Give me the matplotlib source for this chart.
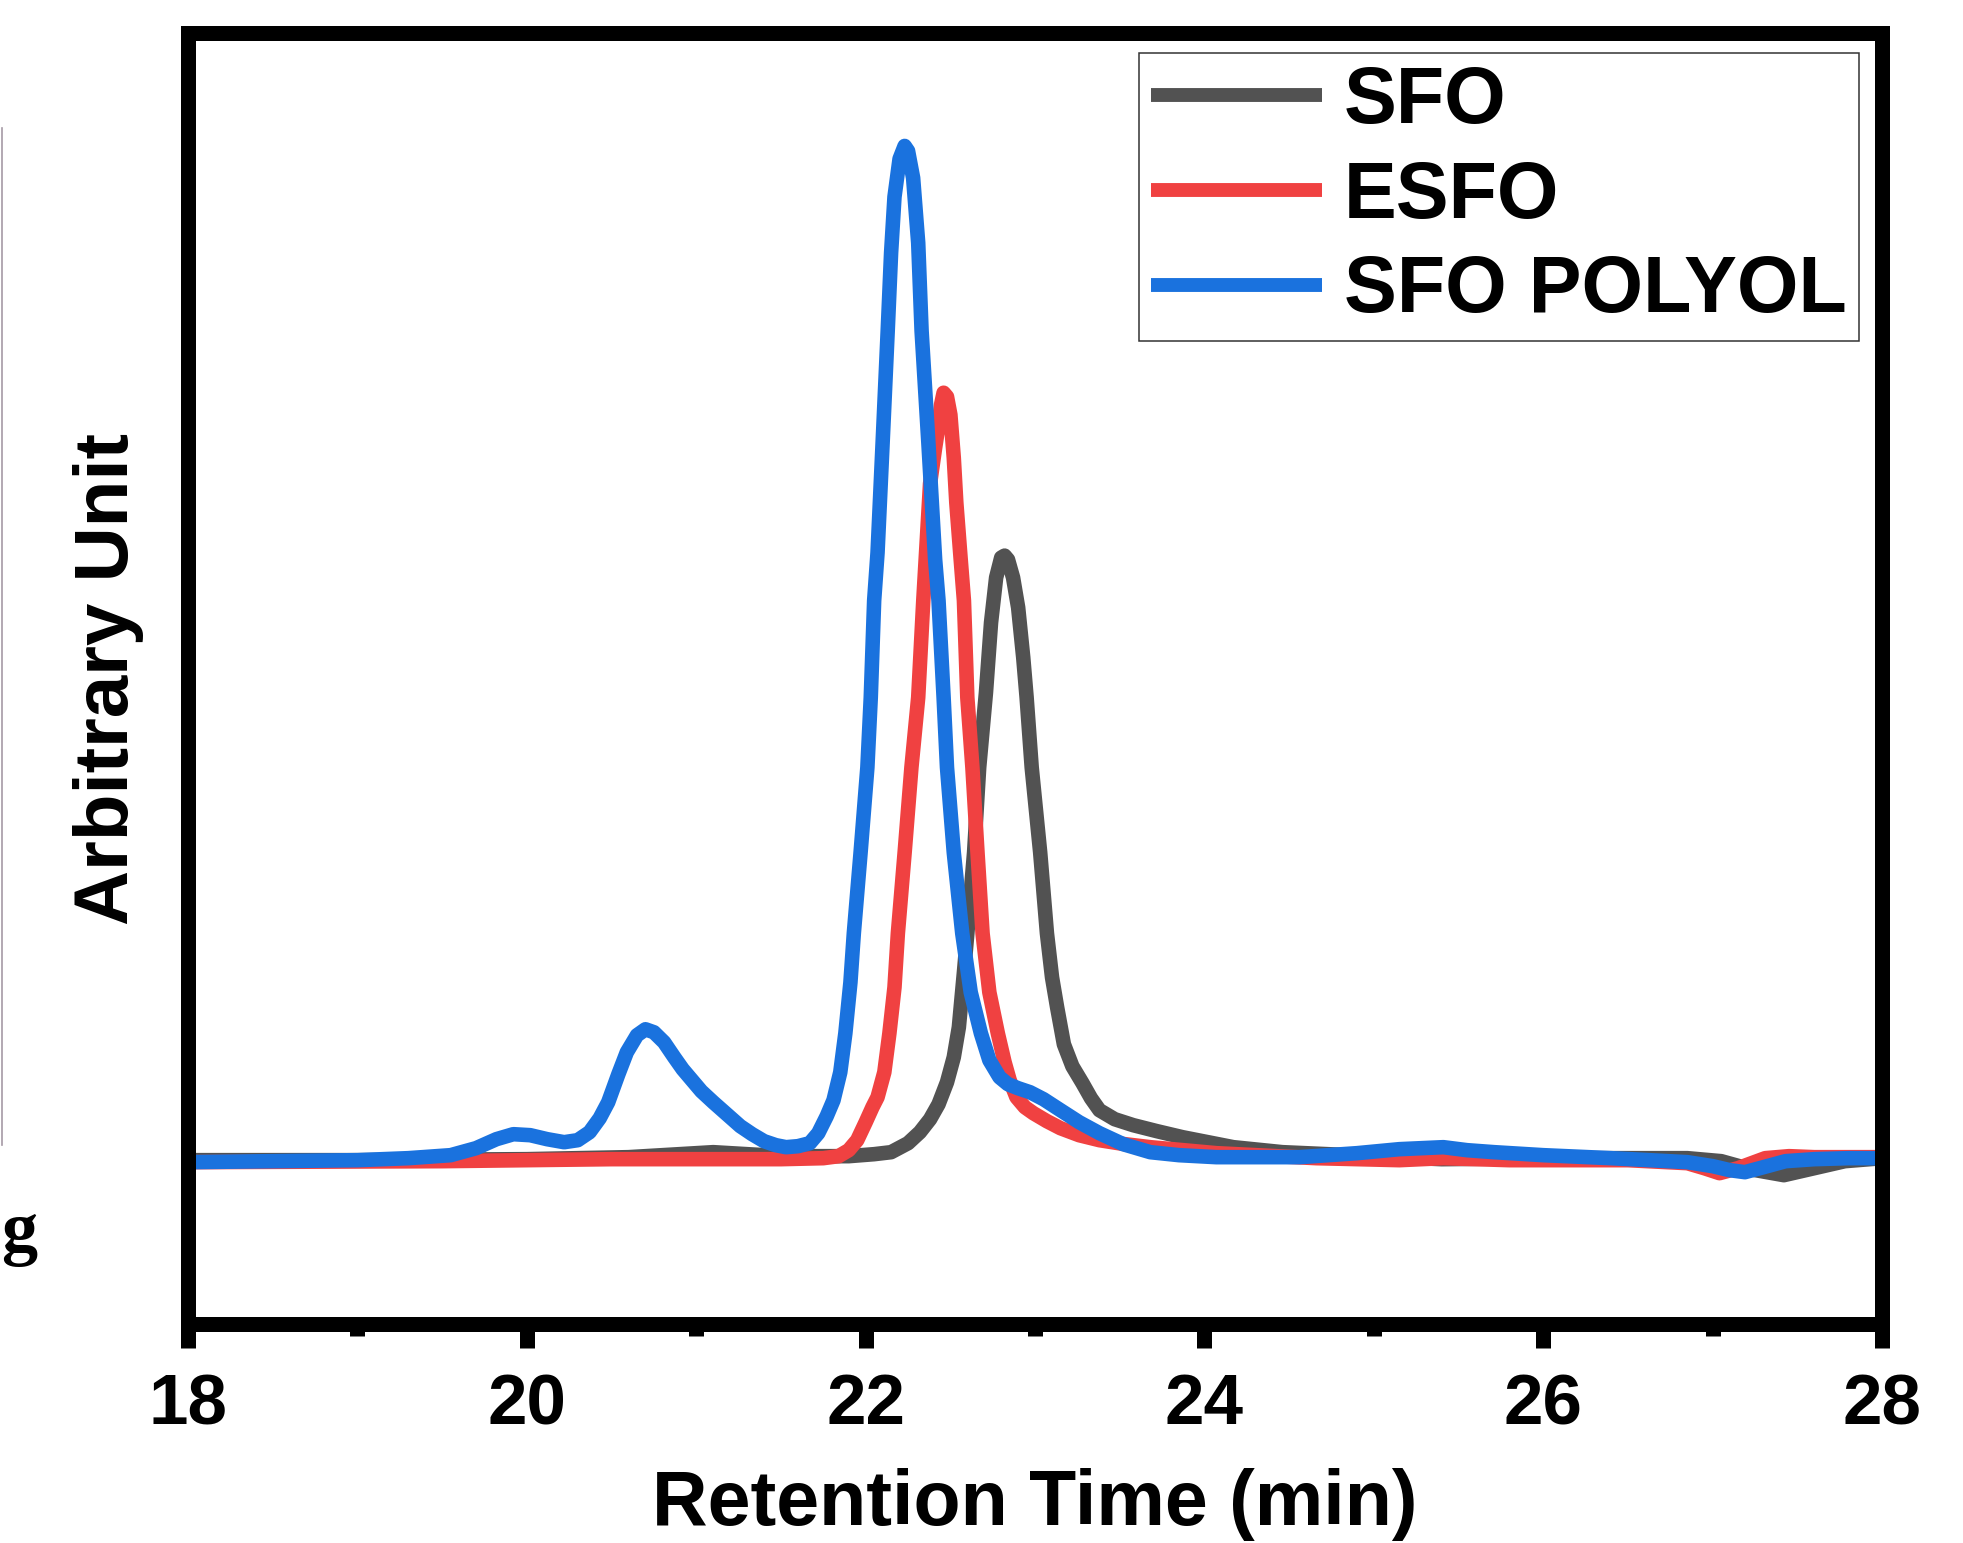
import numpy as np
import matplotlib.pyplot as plt
from matplotlib.lines import Line2D

# retention time (min) and detector response (arbitrary units)
t_sfo = [18.0, 19.0, 20.0, 20.6, 21.1, 21.5, 21.9, 22.05, 22.15, 22.25, 22.32, 22.38, 22.43,
         22.48, 22.52, 22.55, 22.58, 22.60, 22.64, 22.67, 22.71, 22.74, 22.77, 22.80, 22.82,
         22.84, 22.87, 22.90, 22.93, 22.95, 22.98, 23.03, 23.07, 23.10, 23.13, 23.17, 23.22,
         23.28, 23.33, 23.38, 23.47, 23.58, 23.72, 23.87, 24.02, 24.17, 24.46, 24.86, 25.4,
         26.0, 26.85, 27.05, 27.22, 27.42, 27.6, 27.78, 28.0]
y_sfo = [0.2, 0.2, 0.3, 0.5, 1.0, 0.6, 0.6, 0.8, 1.0, 1.9, 3.0, 4.3, 5.8,
         8.0, 10.5, 13.5, 19.0, 22.9, 31.0, 39.5, 47.0, 54.0, 58.5, 60.5, 60.7,
         60.3, 58.5, 55.5, 50.5, 46.5, 39.5, 31.0, 22.9, 18.5, 15.5, 11.8, 9.6,
         7.9, 6.4, 5.2, 4.3, 3.7, 3.1, 2.5, 2.0, 1.5, 1.0, 0.7, 0.3,
         0.4, 0.4, 0.1, -0.7, -1.3, -0.6, 0.1, 0.4]

t_esfo = [18.0, 19.5, 20.5, 21.5, 21.75, 21.84, 21.90, 21.95, 22.00, 22.04, 22.07, 22.11,
          22.14, 22.17, 22.19, 22.23, 22.27, 22.31, 22.34, 22.38, 22.41, 22.43, 22.445,
          22.46, 22.48, 22.50, 22.52, 22.535, 22.56, 22.58, 22.60, 22.63, 22.66, 22.69,
          22.73, 22.78, 22.82, 22.85, 22.89, 22.94, 22.99, 23.07, 23.15, 23.26, 23.38,
          23.53, 23.68, 24.07, 24.66, 25.15, 25.41, 25.8, 26.5, 26.85, 26.95, 27.04,
          27.15, 27.31, 27.45, 27.6, 28.0]
y_esfo = [0.0, 0.1, 0.3, 0.3, 0.4, 0.6, 1.2, 2.2, 4.0, 5.5, 6.5, 9.0,
          12.9, 17.5, 22.9, 31.0, 39.5, 46.5, 56.2, 67.9, 71.5, 73.7, 75.8,
          77.0, 76.6, 74.8, 70.5, 66.0, 60.5, 56.2, 46.5, 39.5, 31.0, 22.9,
          17.0, 12.9, 10.0, 8.2, 6.5, 5.5, 4.9, 4.1, 3.4, 2.7, 2.2,
          1.8, 1.5, 0.9, 0.4, 0.2, 0.4, 0.2, 0.2, -0.1, -0.6, -1.1,
          -0.6, 0.4, 0.6, 0.5, 0.5]

t_polyol = [18.0, 18.5, 19.0, 19.3, 19.55, 19.7, 19.82, 19.92, 20.02, 20.12, 20.22, 20.30,
            20.37, 20.43, 20.48, 20.54, 20.59, 20.65, 20.70, 20.75, 20.81, 20.87, 20.92,
            20.98, 21.03, 21.10, 21.18, 21.26, 21.33, 21.40, 21.47, 21.53, 21.60, 21.67,
            21.72, 21.77, 21.81, 21.85, 21.88, 21.91, 21.93, 21.97, 22.01, 22.03, 22.05,
            22.07, 22.10, 22.13, 22.15, 22.17, 22.20, 22.23, 22.25, 22.28, 22.31, 22.33,
            22.37, 22.41, 22.43, 22.46, 22.48, 22.52, 22.57, 22.62, 22.68, 22.73, 22.79,
            22.84, 22.90, 22.97, 23.05, 23.15, 23.26, 23.38, 23.52, 23.68, 23.85, 24.07,
            24.56, 24.9, 25.15, 25.41, 25.55, 25.71, 26.0, 26.4, 26.85, 27.0, 27.1,
            27.19, 27.3, 27.43, 27.6, 27.8, 28.0]
y_polyol = [0.0, 0.1, 0.2, 0.4, 0.7, 1.4, 2.3, 2.8, 2.7, 2.3, 2.0, 2.2,
            3.0, 4.4, 6.0, 8.8, 11.0, 12.7, 13.3, 13.0, 12.0, 10.5, 9.3,
            8.1, 7.1, 6.0, 4.8, 3.6, 2.8, 2.1, 1.7, 1.5, 1.6, 1.9,
            2.9, 4.6, 6.2, 9.0, 12.9, 18.0, 22.9, 31.0, 39.5, 46.5, 56.2,
            61.0, 72.0, 83.2, 91.0, 96.6, 100.4, 101.7, 101.2, 98.5, 92.0, 83.2,
            72.0, 60.3, 56.2, 46.5, 39.5, 31.0, 22.9, 17.0, 12.9, 10.2, 8.5,
            7.8, 7.4, 7.0, 6.3, 5.2, 4.0, 2.9, 1.8, 1.0, 0.7, 0.5,
            0.5, 0.9, 1.3, 1.5, 1.2, 1.0, 0.7, 0.4, 0.0, -0.4, -0.8,
            -1.0, -0.5, 0.1, 0.3, 0.4, 0.4]

labels = ['SFO', 'ESFO', 'SFO POLYOL']
colors = ['#525252', '#F04141', '#1A72DE']
major_ticks = [18, 20, 22, 24, 26, 28]
minor_ticks = [19, 21, 23, 25, 27]

plt.rcParams['font.family'] = ['Liberation Sans', 'DejaVu Sans']
plt.rcParams['font.weight'] = 'bold'

fig = plt.figure(figsize=(19.63, 15.43), dpi=100)
ax = fig.add_axes([0.0958, 0.1419, 0.8630, 0.8367])

for t, y, lab, c in zip([t_sfo, t_esfo, t_polyol], [y_sfo, y_esfo, y_polyol], labels, colors):
    ax.plot(t, y, color=c, lw=10.5, label=lab, solid_joinstyle='round', solid_capstyle='butt')

ax.set_xlim(18, 28)
ax.set_ylim(-16.2, 113.0)

for s in ax.spines.values():
    s.set_linewidth(10.8)
ax.set_xticks(major_ticks)
ax.set_xticks(minor_ticks, minor=True)
ax.tick_params(axis='x', which='major', direction='out', length=17.3, width=10.8,
               labelsize=51, pad=18)
ax.tick_params(axis='x', which='minor', direction='out', length=8.6, width=10.8)
ax.tick_params(axis='y', which='both', left=False, labelleft=False)

ax.set_xlabel('Retention Time (min)', fontsize=55.5, fontweight='bold', va='baseline')
ax.xaxis.set_label_coords(0.5, -0.1556)
ax.set_ylabel('Arbitrary Unit', fontsize=55, fontweight='bold', va='baseline')
ax.yaxis.set_label_coords(-0.0354, 0.5)

leg = ax.legend(loc='upper left', bbox_to_anchor=(0.5614, 0.9845), borderaxespad=0,
                fontsize=57, frameon=True, fancybox=False, edgecolor='black',
                handlelength=2.16, handletextpad=0.28, borderpad=0.15, labelspacing=0.25)
leg.get_frame().set_linewidth(1.1)
for h in leg.get_lines():
    h.set_linewidth(10)

# stray bits at the left edge of the original figure
fig.add_artist(Line2D([0.0008, 0.0008], [1 - 128 / 1543, 1 - 1145 / 1543],
                      transform=fig.transFigure, color='#a59aa5', lw=1.2))
fig.text(0.0005, 1 - 1252 / 1543, 'g', fontsize=52, fontweight='bold',
         family=['Liberation Serif', 'DejaVu Serif'], ha='left', va='baseline')

fig.savefig('out.png', dpi=100)
